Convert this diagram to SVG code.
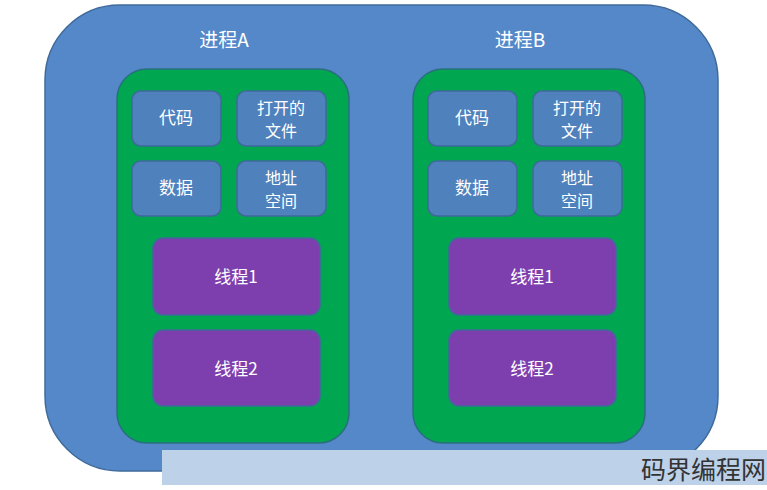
<svg xmlns="http://www.w3.org/2000/svg" width="767" height="490" viewBox="0 0 767 490">
<style>
.t{font-family:"Noto Sans CJK SC","Liberation Sans",sans-serif;fill:#fff;text-anchor:middle;font-size:17px}
.m{font-size:16px}
.h{font-size:19px}
.s{fill:#4f81bd;stroke:#3f6a9a;stroke-width:1.5}
.g{fill:#00a650;stroke:#2a6f80;stroke-width:1.5}
.p{fill:#7e3fae;stroke:#3f6a9a;stroke-width:1.5}
</style>
<rect width="767" height="490" fill="#fff"/>
<rect id="bg" x="45" y="5" width="673" height="466" rx="75" fill="#5588c9" stroke="#3f6a9a" stroke-width="1.5"/>
<g id="procA">
<text class="t h" x="224" y="47">进程A</text>
<rect class="g" x="117" y="69" width="232" height="374" rx="30"/>
<g id="a1"><rect class="s" x="132" y="91" width="89" height="55" rx="9"/><text class="t" x="176" y="124">代码</text></g>
<g id="a2"><rect class="s" x="237" y="91" width="89" height="55" rx="9"/><text class="t m" x="281" y="114">打开的</text><text class="t m" x="281" y="137">文件</text></g>
<g id="a3"><rect class="s" x="132" y="161" width="89" height="55" rx="9"/><text class="t" x="176" y="194">数据</text></g>
<g id="a4"><rect class="s" x="237" y="161" width="89" height="55" rx="9"/><text class="t m" x="281" y="184">地址</text><text class="t m" x="281" y="207">空间</text></g>
<g id="a5"><rect class="p" x="153" y="238" width="167" height="77" rx="10"/><text class="t" x="236" y="283">线程1</text></g>
<g id="a6"><rect class="p" x="153" y="330" width="167" height="76" rx="10"/><text class="t" x="236" y="375">线程2</text></g>
</g>
<g id="procB">
<text class="t h" x="520" y="47">进程B</text>
<rect class="g" x="413" y="69" width="232" height="374" rx="30"/>
<g id="b1"><rect class="s" x="428" y="91" width="89" height="55" rx="9"/><text class="t" x="472" y="124">代码</text></g>
<g id="b2"><rect class="s" x="533" y="91" width="89" height="55" rx="9"/><text class="t m" x="577" y="114">打开的</text><text class="t m" x="577" y="137">文件</text></g>
<g id="b3"><rect class="s" x="428" y="161" width="89" height="55" rx="9"/><text class="t" x="472" y="194">数据</text></g>
<g id="b4"><rect class="s" x="533" y="161" width="89" height="55" rx="9"/><text class="t m" x="577" y="184">地址</text><text class="t m" x="577" y="207">空间</text></g>
<g id="b5"><rect class="p" x="449" y="238" width="167" height="77" rx="10"/><text class="t" x="532" y="283">线程1</text></g>
<g id="b6"><rect class="p" x="449" y="330" width="167" height="76" rx="10"/><text class="t" x="532" y="375">线程2</text></g>
</g>
<g id="connectors"/>
<rect x="162" y="450" width="605" height="35" fill="#bdd1e8"/>
<text x="766" y="479" font-family="Noto Sans CJK SC,sans-serif" font-size="25" fill="#333" text-anchor="end">码界编程网</text>
</svg>
